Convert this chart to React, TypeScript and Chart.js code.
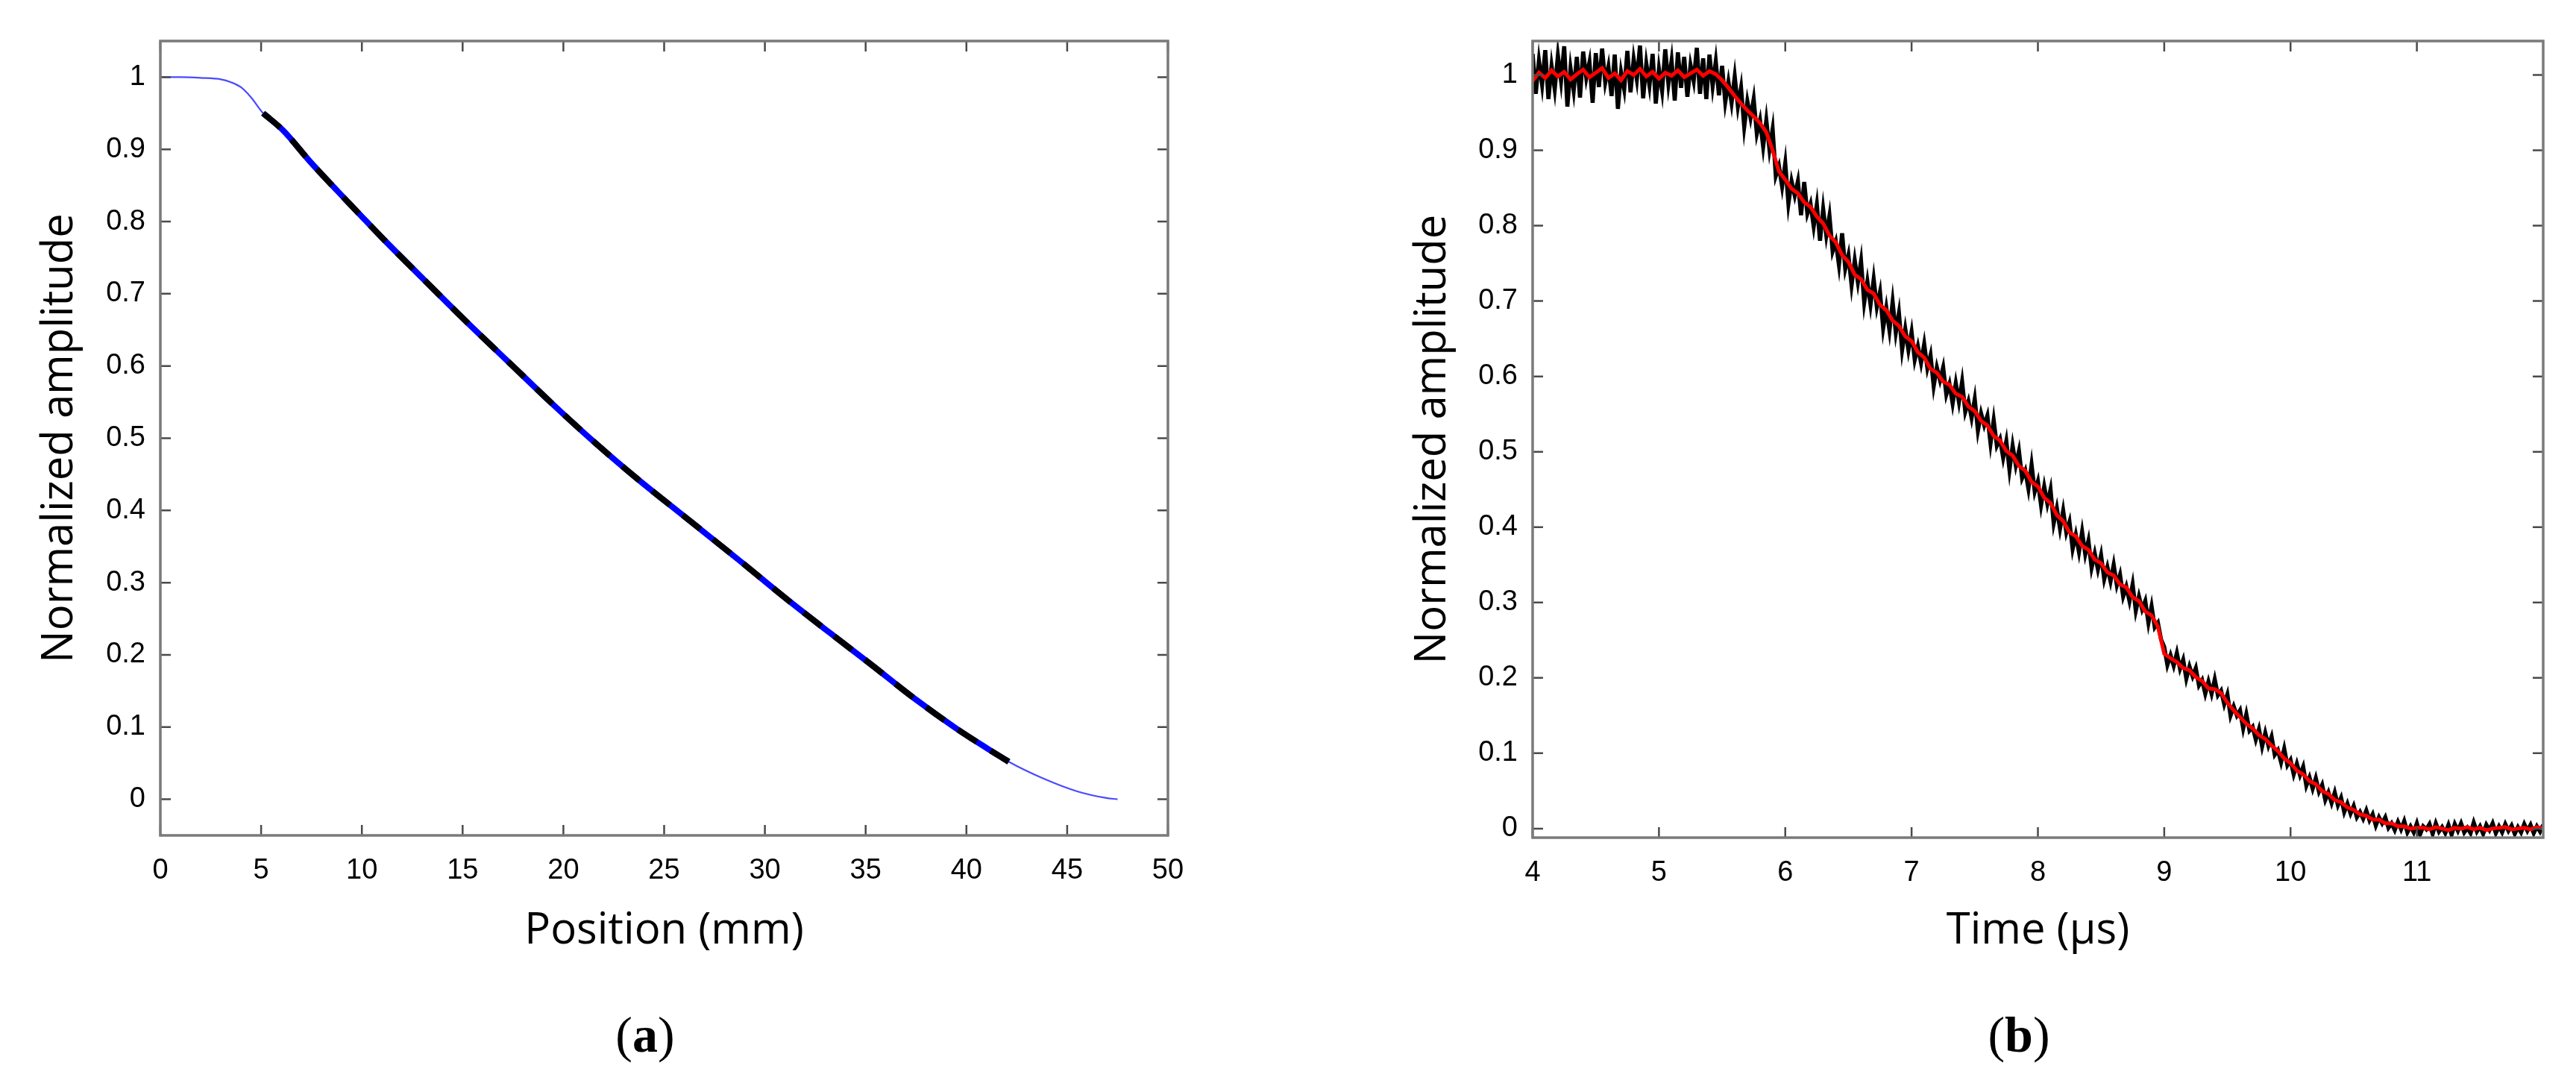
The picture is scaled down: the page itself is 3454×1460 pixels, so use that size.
import React, { useEffect, useRef } from "react";
import { Chart, registerables } from "chart.js";

Chart.register(...registerables);

// ---------------- Panel (a): amplitude vs position ----------------
const positionMm = [
  0, 1, 2, 3, 3.5, 4, 4.5, 5.1, 6.1, 7.4, 8.8, 10.2, 11.2, 13.1, 15.2, 17.3, 19.4,
  21.6, 23.7, 25.4, 26.8, 28.9, 31.0, 33.2, 35.3, 37.4, 39.5, 41.0, 42.1, 43.8, 45.5,
  46.9, 47.5,
];
const amplitudeA = [
  1.0, 1.0, 0.999, 0.997, 0.993, 0.986, 0.972, 0.95, 0.926, 0.884, 0.842, 0.801, 0.772,
  0.719, 0.661, 0.605, 0.549, 0.493, 0.443, 0.405, 0.374, 0.327, 0.279, 0.231, 0.186,
  0.14, 0.098, 0.071, 0.052, 0.029, 0.011, 0.002, 0.0,
];
const fitPositionMm = [
  5.1, 6.1, 7.4, 8.8, 10.2, 11.2, 13.1, 15.2, 17.3, 19.4, 21.6, 23.7, 25.4, 26.8, 28.9,
  31.0, 33.2, 35.3, 37.4, 39.5, 41.0, 42.1,
];
const fitAmplitude = [
  0.95, 0.926, 0.884, 0.842, 0.801, 0.772, 0.719, 0.661, 0.605, 0.549, 0.493, 0.443,
  0.405, 0.374, 0.327, 0.279, 0.231, 0.186, 0.14, 0.098, 0.071, 0.052,
];
const positionTicks = [0, 5, 10, 15, 20, 25, 30, 35, 40, 45, 50];
const amplitudeTicks = [0, 0.1, 0.2, 0.3, 0.4, 0.5, 0.6, 0.7, 0.8, 0.9, 1];

// ---------------- Panel (b): amplitude vs time ----------------
const timeTicks = [4, 5, 6, 7, 8, 9, 10, 11];
const rawStartUs = 4;
const rawStepUs = 0.025;
const rawAmplitude = [
  // 4.000 - 5.475
  1.028, 0.975, 1.019, 0.987, 1.033, 0.968, 1.012, 0.981, 1.026, 0.992,
  1.038, 0.958, 1.009, 0.979, 1.024, 0.970, 1.031, 0.996, 1.017, 0.963,
  1.029, 0.984, 1.035, 0.990, 1.011, 0.972, 1.027, 0.955, 1.004, 0.981,
  1.032, 0.977, 1.021, 0.994, 1.039, 0.969, 1.015, 0.986, 1.028, 0.962,
  1.008, 0.979, 1.034, 0.988, 1.019, 0.966, 1.030, 0.983, 1.024, 0.971,
  1.013, 0.992, 1.036, 0.975, 1.022, 0.968, 1.027, 0.985, 1.018, 0.973,
  // 5.500 - 6.975
  1.012, 0.964, 0.991, 0.963, 0.998, 0.958, 0.983, 0.931, 0.965, 0.943,
  0.968, 0.922, 0.940, 0.905, 0.940, 0.901, 0.928, 0.866, 0.879, 0.852,
  0.883, 0.829, 0.859, 0.840, 0.859, 0.814, 0.858, 0.816, 0.829, 0.799,
  0.828, 0.780, 0.822, 0.787, 0.813, 0.766, 0.779, 0.748, 0.790, 0.743,
  0.761, 0.721, 0.754, 0.725, 0.753, 0.698, 0.726, 0.695, 0.729, 0.692,
  0.712, 0.664, 0.691, 0.661, 0.699, 0.658, 0.684, 0.635, 0.663, 0.635,
  // 7.000 - 8.975
  0.659, 0.622, 0.640, 0.618, 0.643, 0.611, 0.628, 0.587, 0.612, 0.595,
  0.612, 0.576, 0.590, 0.564, 0.591, 0.566, 0.593, 0.553, 0.567, 0.545,
  0.570, 0.528, 0.551, 0.535, 0.548, 0.511, 0.542, 0.508, 0.517, 0.492,
  0.514, 0.476, 0.508, 0.482, 0.501, 0.465, 0.475, 0.451, 0.483, 0.447,
  0.461, 0.429, 0.454, 0.431, 0.450, 0.405, 0.425, 0.398, 0.422, 0.393,
  0.407, 0.371, 0.390, 0.367, 0.394, 0.364, 0.382, 0.346, 0.365, 0.344,
  0.363, 0.331, 0.347, 0.328, 0.350, 0.323, 0.337, 0.308, 0.321, 0.302,
  0.324, 0.289, 0.308, 0.291, 0.302, 0.273, 0.295, 0.267, 0.273, 0.251,
  // 9.000 - 10.475
  0.241, 0.217, 0.230, 0.216, 0.233, 0.212, 0.224, 0.199, 0.215, 0.202,
  0.213, 0.190, 0.197, 0.179, 0.195, 0.179, 0.198, 0.177, 0.183, 0.165,
  0.178, 0.150, 0.162, 0.150, 0.157, 0.133, 0.152, 0.130, 0.135, 0.118,
  0.132, 0.109, 0.127, 0.110, 0.122, 0.098, 0.104, 0.088, 0.106, 0.084,
  0.091, 0.072, 0.086, 0.071, 0.082, 0.057, 0.068, 0.053, 0.067, 0.049,
  0.058, 0.038, 0.048, 0.034, 0.048, 0.031, 0.041, 0.022, 0.033, 0.020,
  // 10.500 - 12.000
  0.030, 0.015, 0.022, 0.013, 0.024, 0.011, 0.019, 0.004, 0.015, 0.007,
  0.015, 0.001, 0.007, -0.002, 0.009, -0.001, 0.010, -0.005, 0.003, -0.005,
  0.007, -0.008, 0.003, -0.001, 0.006, -0.007, 0.007, -0.004, 0.002, -0.006,
  0.005, -0.008, 0.006, -0.003, 0.007, -0.005, 0.001, -0.006, 0.008, -0.004,
  0.003, -0.007, 0.005, -0.002, 0.007, -0.006, 0.003, -0.005, 0.006, -0.003,
  0.004, -0.007, 0.002, -0.005, 0.006, -0.003, 0.005, -0.006, 0.003, -0.004,
  0.005,
];
const smoothStartUs = 4;
const smoothStepUs = 0.05;
const smoothAmplitude = [
  0.992, 1.003, 0.996, 1.006, 0.998, 1.004, 0.994, 1.001, 1.007, 0.997,
  1.003, 1.009, 0.996, 1.002, 0.993, 1.005, 1.0, 1.008, 0.998, 1.004,
  0.995, 1.003, 0.999, 1.006, 0.997, 1.002, 1.007, 0.999, 1.005, 1.001,
  0.993, 0.983, 0.972, 0.962, 0.953, 0.945, 0.936, 0.924, 0.9, 0.872,
  0.861, 0.849, 0.843, 0.831, 0.825, 0.812, 0.803, 0.787, 0.778, 0.761,
  0.752, 0.735, 0.729, 0.715, 0.71, 0.695, 0.688, 0.674, 0.667, 0.653,
  0.647, 0.632, 0.625, 0.61, 0.605, 0.593, 0.589, 0.577, 0.573, 0.56,
  0.554, 0.541, 0.535, 0.521, 0.515, 0.501, 0.495, 0.481, 0.475, 0.46,
  0.454, 0.439, 0.432, 0.416, 0.408, 0.393, 0.388, 0.375, 0.37, 0.357,
  0.352, 0.34, 0.336, 0.324, 0.32, 0.307, 0.302, 0.288, 0.283, 0.268,
  0.232, 0.226, 0.221, 0.213, 0.21, 0.201, 0.196, 0.186, 0.185, 0.18,
  0.167, 0.157, 0.148, 0.139, 0.133, 0.124, 0.119, 0.11, 0.103, 0.093,
  0.087, 0.077, 0.072, 0.063, 0.059, 0.05, 0.046, 0.038, 0.035, 0.028,
  0.025, 0.019, 0.017, 0.012, 0.012, 0.007, 0.007, 0.003, 0.003, 0.0,
  0.001, 0.001, -0.001, 0.002, 0.0, -0.002, 0.001, 0.0, 0.002, -0.001,
  0.001, -0.002, 0.0, 0.001, 0.002, -0.001, 0.0, 0.001, -0.001, 0.002,
  0.0,
];

// ---------------- helpers ----------------
const fmt = (v: number) => String(Math.round(Number(v) * 10) / 10);

const boxPlugin = {
  id: "matlabBox",
  afterDraw(chart: any) {
    const { ctx, chartArea: a, scales } = chart;
    const L = 14;
    ctx.save();
    ctx.strokeStyle = "#4a4a4a";
    ctx.lineWidth = 2.5;
    ctx.beginPath();
    for (const t of scales.x.ticks) {
      const px = scales.x.getPixelForValue(t.value);
      ctx.moveTo(px, a.bottom);
      ctx.lineTo(px, a.bottom - L);
      ctx.moveTo(px, a.top);
      ctx.lineTo(px, a.top + L);
    }
    for (const t of scales.y.ticks) {
      const py = scales.y.getPixelForValue(t.value);
      ctx.moveTo(a.left, py);
      ctx.lineTo(a.left + L, py);
      ctx.moveTo(a.right, py);
      ctx.lineTo(a.right - L, py);
    }
    ctx.stroke();
    ctx.strokeStyle = "#7a7a7a";
    ctx.lineWidth = 3.5;
    ctx.strokeRect(a.left, a.top, a.right - a.left, a.bottom - a.top);
    ctx.restore();
  },
};

type AxisSpec = {
  xMin: number;
  xMax: number;
  yMin: number;
  yMax: number;
  xTicks: number[];
  yTicks: number[];
  xTitle: string;
  yTitle: string;
  yAxisWidth: number;
  xAxisHeight: number;
  padTop: number;
  padRight: number;
  yTitlePad: number;
};

function makeOptions(s: AxisSpec): any {
  const tickFont = { family: "'Liberation Sans', Arial, sans-serif", size: 38 };
  const titleFont = { family: "'Open Sans', 'Noto Sans', sans-serif", size: 58 };
  return {
    animation: false,
    responsive: false,
    devicePixelRatio: 1,
    events: [],
    layout: { padding: { top: s.padTop, right: s.padRight, left: 0, bottom: 0 } },
    plugins: { legend: { display: false }, tooltip: { enabled: false } },
    elements: { point: { radius: 0 } },
    scales: {
      x: {
        type: "linear",
        min: s.xMin,
        max: s.xMax,
        afterBuildTicks: (sc: any) => {
          sc.ticks = s.xTicks.map((v) => ({ value: v }));
        },
        afterFit: (sc: any) => {
          sc.height = s.xAxisHeight;
        },
        grid: { display: false, drawTicks: false },
        border: { display: false },
        ticks: {
          autoSkip: false,
          maxRotation: 0,
          padding: 25,
          color: "#000",
          font: tickFont,
          callback: (v: number) => fmt(v),
        },
        title: {
          display: true,
          text: s.xTitle,
          color: "#000",
          font: titleFont,
          padding: { top: 0, bottom: 177 },
        },
      },
      y: {
        type: "linear",
        min: s.yMin,
        max: s.yMax,
        afterBuildTicks: (sc: any) => {
          sc.ticks = s.yTicks.map((v) => ({ value: v }));
        },
        afterFit: (sc: any) => {
          sc.width = s.yAxisWidth;
        },
        grid: { display: false, drawTicks: false },
        border: { display: false },
        ticks: {
          autoSkip: false,
          padding: 20,
          color: "#000",
          font: tickFont,
          callback: (v: number) => fmt(v),
        },
        title: {
          display: true,
          text: s.yTitle,
          color: "#000",
          font: titleFont,
          padding: { top: s.yTitlePad, bottom: 0 },
        },
      },
    },
  };
}

function ChartCanvas({ left, width, height, build }: { left: number; width: number; height: number; build: () => any }) {
  const ref = useRef<HTMLCanvasElement | null>(null);
  useEffect(() => {
    if (!ref.current) return;
    const chart = new Chart(ref.current, build());
    return () => chart.destroy();
  }, []);
  return (
    <canvas
      ref={ref}
      width={width}
      height={height}
      style={{ position: "absolute", left, top: 0, width, height }}
    />
  );
}

const buildA = () => ({
  type: "line",
  data: {
    datasets: [
      {
        data: fitPositionMm.map((x, i) => ({ x, y: fitAmplitude[i] })),
        borderColor: "#000000",
        borderWidth: 8,
        borderDash: [30, 22],
        borderCapStyle: "butt",
        cubicInterpolationMode: "monotone",
        fill: false,
      },
      {
        data: fitPositionMm.map((x, i) => ({ x, y: fitAmplitude[i] })),
        borderColor: "#0000ff",
        borderWidth: 8,
        cubicInterpolationMode: "monotone",
        fill: false,
      },
      {
        data: positionMm.map((x, i) => ({ x, y: amplitudeA[i] })),
        borderColor: "#4a4aff",
        borderWidth: 2.2,
        cubicInterpolationMode: "monotone",
        fill: false,
      },
    ],
  },
  options: makeOptions({
    xMin: 0,
    xMax: 50,
    yMin: -0.05,
    yMax: 1.05,
    xTicks: positionTicks,
    yTicks: amplitudeTicks,
    xTitle: "Position (mm)",
    yTitle: "Normalized amplitude",
    yAxisWidth: 215,
    xAxisHeight: 340,
    padTop: 55,
    padRight: 161,
    yTitlePad: 46,
  }),
  plugins: [boxPlugin],
});

const buildB = () => ({
  type: "line",
  data: {
    datasets: [
      {
        data: smoothAmplitude.map((y, i) => ({ x: smoothStartUs + i * smoothStepUs, y })),
        borderColor: "#ff0000",
        borderWidth: 5,
        fill: false,
      },
      {
        data: rawAmplitude.map((y, i) => ({ x: rawStartUs + i * rawStepUs, y })),
        borderColor: "#000000",
        borderWidth: 5.5,
        fill: false,
      },
    ],
  },
  options: makeOptions({
    xMin: 4,
    xMax: 12,
    yMin: -0.012,
    yMax: 1.045,
    xTicks: timeTicks,
    yTicks: amplitudeTicks,
    xTitle: "Time (µs)",
    yTitle: "Normalized amplitude",
    yAxisWidth: 328,
    xAxisHeight: 337,
    padTop: 55,
    padRight: 44,
    yTitlePad: 160,
  }),
  plugins: [boxPlugin],
});

const captionStyle = (centerX: number): React.CSSProperties => ({
  position: "absolute",
  left: centerX - 100,
  top: 1353,
  width: 200,
  textAlign: "center",
  fontFamily: "'Liberation Serif', 'Times New Roman', serif",
  fontSize: 68,
  lineHeight: "68px",
  color: "#000",
});

export default function App() {
  return (
    <div
      style={{
        position: "absolute",
        left: 0,
        top: 0,
        width: 3454,
        height: 1460,
        background: "#ffffff",
        overflow: "hidden",
      }}
    >
      <ChartCanvas left={0} width={1727} height={1460} build={buildA} />
      <ChartCanvas left={1727} width={1727} height={1460} build={buildB} />
      <div style={captionStyle(865)}>
        (<b>a</b>)
      </div>
      <div style={captionStyle(2707)}>
        (<b>b</b>)
      </div>
    </div>
  );
}
